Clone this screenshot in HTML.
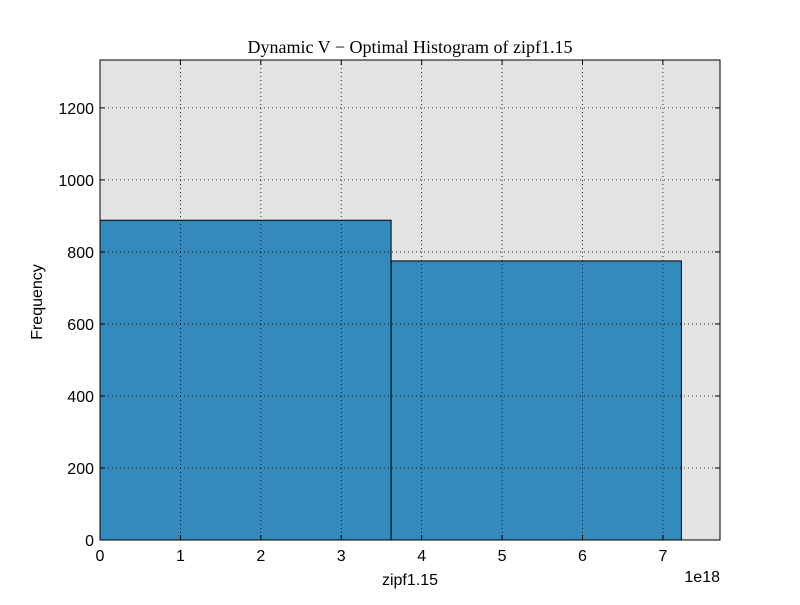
<!DOCTYPE html>
<html><head><meta charset="utf-8"><style>
body{margin:0;background:#fff;}
svg text{font-family:"Liberation Sans",sans-serif;}
</style></head><body>
<svg id="chart" width="800" height="600" xmlns="http://www.w3.org/2000/svg">
<rect width="800" height="600" fill="#fff"/>
<rect x="100" y="60" width="620" height="480" fill="#e3e3e3"/>
<g id="bars"></g>
<g id="grid"></g>
<rect x="100" y="60" width="620" height="480" fill="none" stroke="#000" stroke-width="1"/>
<g id="ticks"></g>
<text x="410" y="53" text-anchor="middle" font-size="18" style="font-family:'Liberation Serif',serif">Dynamic V − Optimal Histogram of zipf1.15</text>
<text x="410" y="585" text-anchor="middle" font-size="16">zipf1.15</text>
<text x="42" y="302" text-anchor="middle" font-size="16" transform="rotate(-90 42 302)">Frequency</text>
<text x="720" y="582" text-anchor="end" font-size="16">1e18</text>
</svg>
<script>
const binEdges=[0,3.62,7.23];
const counts=[888,775];
const xTicks=[0,1,2,3,4,5,6,7];
const yTicks=[0,200,400,600,800,1000,1200];
const X0=100,X1=720,Y0=540,Y1=60,XMAX=7.71,YMAX=1333;
const sx=v=>X0+v/XMAX*(X1-X0);
const sy=v=>Y0-v/YMAX*(Y0-Y1);
const NS="http://www.w3.org/2000/svg";
function mk(t,a,p){const e=document.createElementNS(NS,t);for(const k in a)e.setAttribute(k,a[k]);document.getElementById(p).appendChild(e);return e;}
xTicks.forEach(v=>{
 const x=sx(v);
 const g=mk('line',{x1:x,x2:x,y1:Y1,y2:Y0,stroke:'#000','stroke-dasharray':'1,3','stroke-width':0.8},'grid');
 
 
 mk('line',{x1:x,x2:x,y1:Y0,y2:Y0-5,stroke:'#000'},'ticks');
 mk('line',{x1:x,x2:x,y1:Y1,y2:Y1+5,stroke:'#000'},'ticks');
 const t=mk('text',{x:x,y:Y0+21,'text-anchor':'middle','font-size':16},'ticks');
 t.textContent=v;
 
 
});
yTicks.forEach(v=>{
 const y=sy(v);
 const g=mk('line',{x1:X0,x2:X1,y1:y,y2:y,stroke:'#000','stroke-dasharray':'1,3','stroke-width':0.8},'grid');
 
 
 mk('line',{x1:X0,x2:X0+5,y1:y,y2:y,stroke:'#000'},'ticks');
 mk('line',{x1:X1,x2:X1-5,y1:y,y2:y,stroke:'#000'},'ticks');
 const t=mk('text',{x:X0-6,y:y+6,'text-anchor':'end','font-size':16},'ticks');
 t.textContent=v;
 
 
});
counts.forEach((c,i)=>{
 const x=sx(binEdges[i]),x2=sx(binEdges[i+1]),y=sy(c);
 const r=mk('rect',{x:x,y:y,width:x2-x,height:Y0-y,fill:'#348abd',stroke:'#000','stroke-width':1},'bars');
 
 
});
</script>
</body></html>
